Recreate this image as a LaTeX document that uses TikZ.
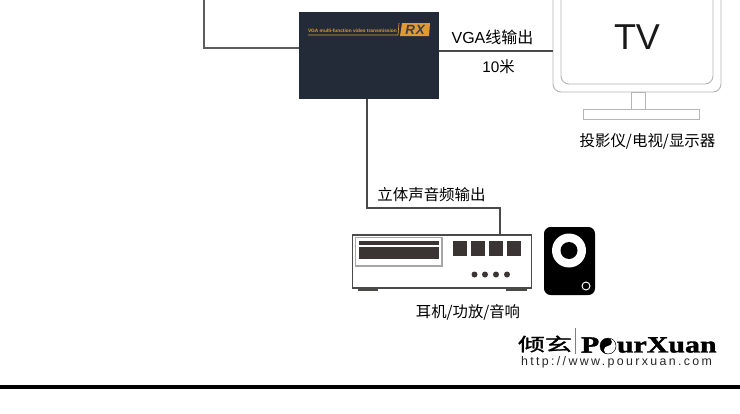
\documentclass[tikz,border=0pt]{standalone}
\usepackage{fontspec}
\setmainfont{Liberation Sans}
\newfontfamily\cjk{Noto Sans CJK SC}
\newfontfamily\logocjk[FakeBold=1.2]{Noto Sans CJK SC}
\newfontfamily\logofont[FakeBold=1.5]{Liberation Serif}
\definecolor{boxnavy}{HTML}{232B38}
\definecolor{boxorange}{HTML}{E09A33}
\definecolor{wire}{HTML}{4A4A4A}
\definecolor{tvline}{HTML}{B5B5B5}
\definecolor{devline}{HTML}{4A4A48}
\definecolor{devdark}{HTML}{3A3533}
\tikzset{
  x=0.75pt,y=-0.75pt,
  every node/.style={outer sep=0pt},
  wireline/.style={draw=wire,line width=1.1pt},
  tvshape/.style={draw=tvline,line width=0.7pt,fill=white},
  label/.style={inner sep=0pt,text=black,font=\fontsize{11.2}{12}\selectfont},
  cnlabel/.style={inner sep=0pt,text=black,font=\cjk\fontsize{11.6}{13}\selectfont},
  devpart/.style={fill=devdark,draw=none},
  logotext/.style={inner sep=0pt,anchor=west,xscale=1.28,transform shape,text=black,font=\logofont\bfseries\fontsize{17.5}{20}\selectfont},
}
\begin{document}
\begin{tikzpicture}
\useasboundingbox (0,0) rectangle (740,414);
\coordinate (topleft) at (204,0);
\coordinate (leftbend) at (204,48);
\coordinate (bottombend) at (367,208);
\coordinate (devbend) at (500,208);

% TV
\begin{scope}
\clip (540,0) rectangle (740,130);
\draw[tvshape] (553,-12) -- (553,84) arc[start angle=180,end angle=90,radius=8] -- (713,92) arc[start angle=90,end angle=0,radius=8] -- (721,-12);
\draw[tvshape] (561,-12) -- (561,76) arc[start angle=180,end angle=90,radius=8] -- (705,84) arc[start angle=90,end angle=0,radius=8] -- (713,-12);
\end{scope}
\node[draw=tvline,line width=0.7pt,minimum width=14*0.75pt,minimum height=17*0.75pt,inner sep=0pt,anchor=north west] (stand) at (631,92) {};
\node[draw=tvline,line width=0.7pt,minimum width=116*0.75pt,minimum height=10*0.75pt,inner sep=0pt,anchor=north west] (base) at (583,109) {};
\node[inner sep=0pt,font=\fontsize{27}{30}\selectfont,text=black!90] (tvtext) at (637,37) {TV};
\coordinate (tvport) at (553,51);

% transmitter box
\node[fill=boxnavy,minimum width=140*0.75pt,minimum height=87*0.75pt,inner sep=0pt,anchor=north west] (rx) at (299,12) {};
\node[inner sep=0pt,anchor=west,text=boxorange,font=\bfseries\fontsize{3.6}{4}\selectfont] (rxtitle) at (308,31) {VGA multi-function video transmission};
\draw[boxorange,line width=0.5pt] (308,35) -- (398,35) -- (399,23);
\fill[boxorange] (402,23) -- (430,23) -- (429,36) -- (400,36) -- cycle;
\node[inner sep=0pt,text=boxnavy!75!gray,font=\bfseries\itshape\fontsize{10}{11}\selectfont] (rxbadge) at (415,29.5) {R\kern0.6pt X};

% device
\node[draw=devline,line width=1.2pt,fill=white,minimum width=179*0.75pt,minimum height=53*0.75pt,inner sep=0pt,anchor=north west] (dev) at (352.5,235) {};
\fill[devline] (358,288) rectangle (378,291);
\fill[devline] (506,288) rectangle (527,291);
\draw[gray!70,line width=0.8pt,fill=white] (355.5,237.5) rectangle (442,266);
\fill[devpart] (359,240.5) rectangle (439,244.5);
\fill[devpart] (359,247) rectangle (439,258.5);
\foreach \x in {453,471,489,507}{\fill[devpart] (\x,241) rectangle +(13.5,14.5);}
\foreach \x in {474.5,485,496,507}{\fill[devpart] (\x,274.5) circle[radius=3];}

% speaker
\node[fill=black,rounded corners=5pt,minimum width=51*0.75pt,minimum height=68*0.75pt,inner sep=0pt,anchor=north west] (speaker) at (544,227) {};
\fill[white] (569,250.5) circle[radius=17];
\fill[black] (569,250.5) circle[radius=8.5];
\draw[white,line width=0.7pt] (586,286) circle[radius=4];

% connectors
\draw[wireline,line width=0.9pt,draw=wire!90] (topleft) -- (leftbend) -- (leftbend -| rx.west);
\draw[wireline,line width=0.9pt] (rx.east |- tvport) -- (tvport);
\draw[wireline] (rx.south -| bottombend) -- (bottombend) -- (devbend) -- (dev.north -| devbend);

% labels
\node[label,font=\fontsize{12}{14}\selectfont] (vgaout) at (492.5,37) {VGA{\cjk 线输出}};
\node[label,font=\fontsize{11.5}{12}\selectfont] (tenm) at (498.5,67) {10{\cjk 米}};
\node[cnlabel] (tvcap) at (647.5,141) {投影仪/电视/显示器};
\node[cnlabel] (stereo) at (431.5,195) {立体声音频输出};
\node[cnlabel,font=\cjk\fontsize{11.5}{13}\selectfont] (devcap) at (468,312) {耳机/功放/音响};

% logo
\node[inner sep=0pt,xscale=1.5,transform shape,font=\logocjk\fontsize{13.5}{16}\selectfont,text=black] (logocn) at (545,344) {倾玄};
\draw[gray,line width=0.4pt] (575,328) -- (575,354);
\node[logotext] (logop) at (581,345) {P};
\fill[black] (608,346) circle[radius=8];
\fill[white] (608,338) arc[start angle=-90,end angle=90,radius=8] arc[start angle=90,end angle=270,radius=4] arc[start angle=90,end angle=-90,radius=4] -- cycle;
\fill[black] (608,342) circle[radius=1.3];
\fill[white] (608,350) circle[radius=1.3];
\draw[black,line width=0.3pt] (608,346) circle[radius=8];
\node[logotext] (logoname) at (617,345) {urXuan};
\node[inner sep=0pt,anchor=west,font=\fontsize{9.3}{10}\selectfont,text=black!85] (logourl) at (521,362) {\addfontfeatures{LetterSpace=19}http://www.pourxuan.com};

% rule
\fill[black] (0,385) rectangle (740,388.5);
\end{tikzpicture}
\end{document}
